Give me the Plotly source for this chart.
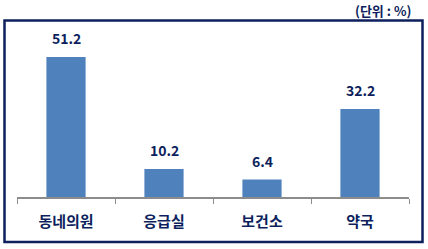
import plotly.graph_objects as go

categories = ["동네의원", "응급실", "보건소", "약국"]
values = [51.2, 10.2, 6.4, 32.2]
value_labels = ["51.2", "10.2", "6.4", "32.2"]
unit_text = "(단위 : %)"

W, H = 428, 249
ml, mr, mt, mb = 17, 19, 25, 52
ph = H - mt - mb
pw = W - ml - mr

def px_x(p):
    return (p - ml) / pw

def px_y(p):
    return (H - mb - p) / ph

navy = "#0d1f5c"
font_fam = "Noto Sans CJK KR, Noto Sans, sans-serif"

fig = go.Figure(go.Bar(
    x=categories, y=values, width=0.4,
    marker=dict(color="#4f81bd", line=dict(width=0)),
    hoverinfo="skip",
))

for c, v, t in zip(categories, values, value_labels):
    fig.add_annotation(x=c, y=v, text=f"<b>{t}</b>", showarrow=False,
                       yanchor="bottom", yshift=7,
                       font=dict(family=font_fam, size=14, color=navy))

fig.add_annotation(xref="paper", yref="paper", x=px_x(413), y=px_y(10),
                   xanchor="right", yanchor="middle", showarrow=False,
                   text=f"<b>{unit_text}</b>",
                   font=dict(family=font_fam, size=13, color=navy))

fig.add_shape(type="rect", xref="paper", yref="paper",
              x0=px_x(4.5), x1=px_x(422.5), y0=px_y(242), y1=px_y(20.5),
              line=dict(color=navy, width=2.5), fillcolor="rgba(0,0,0,0)",
              layer="above")

fig.update_layout(
    width=W, height=H,
    margin=dict(l=ml, r=mr, t=mt, b=mb),
    paper_bgcolor="white", plot_bgcolor="white",
    showlegend=False,
    xaxis=dict(
        showline=True, linecolor="#8c8c8c", linewidth=1.5,
        ticks="outside", tickson="boundaries", ticklen=5, tickcolor="#8c8c8c",
        tickwidth=1,
        tickfont=dict(family=font_fam, size=15, color=navy),
        ticklabelstandoff=10,
        tickprefix="<b>", ticksuffix="</b>",
        showgrid=False, fixedrange=True,
    ),
    yaxis=dict(range=[0, ph / 2.734], visible=False, showgrid=False,
               fixedrange=True),
)

fig.write_html("out.html", config={"displayModeBar": False})
